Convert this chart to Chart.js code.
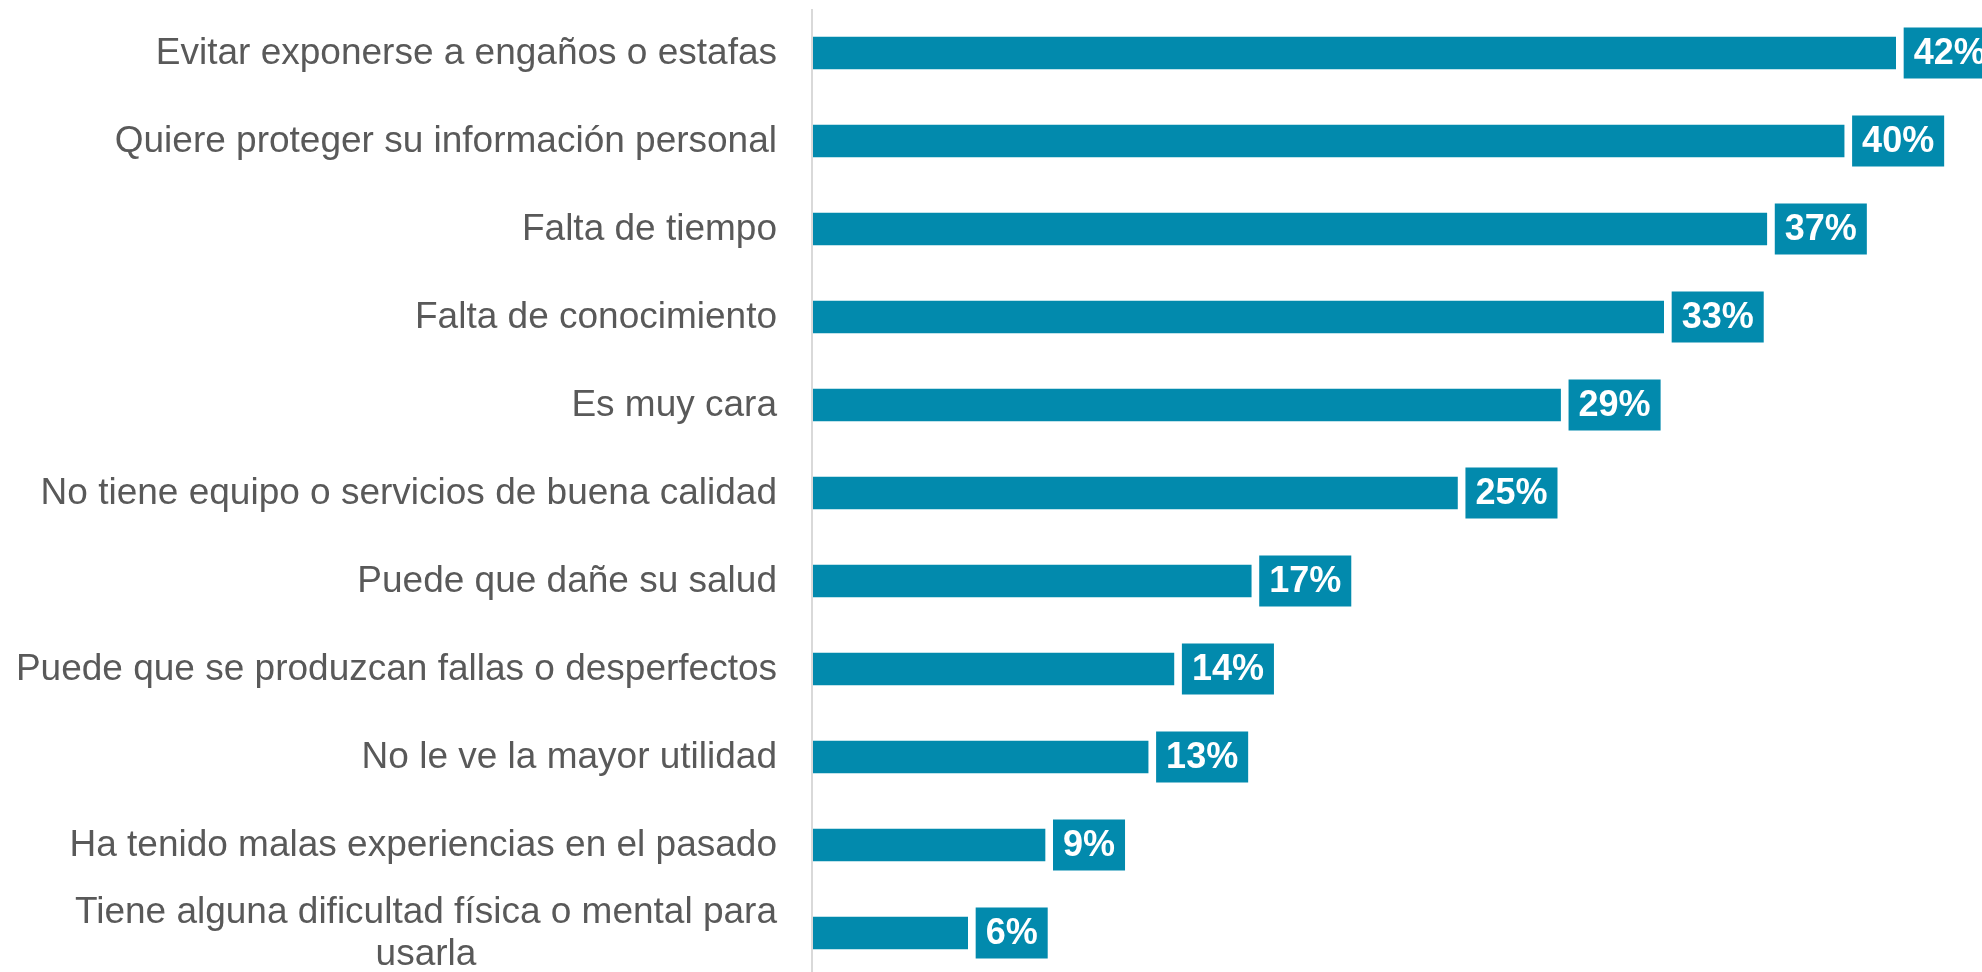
<!DOCTYPE html>
<html>
<head>
<meta charset="utf-8">
<script src="https://cdn.jsdelivr.net/npm/chart.js@4"></script>
<style>
  html, body { margin: 0; padding: 0; background: #fff; overflow: hidden; }
  #wrap { width: 1982px; height: 980px; }
</style>
</head>
<body>
<div id="wrap"><canvas id="myChart"></canvas></div>
<script>
// Categories (top to bottom) and their percentages
const categories = [
    "Evitar exponerse a engaños o estafas",
    "Quiere proteger su información personal",
    "Falta de tiempo",
    "Falta de conocimiento",
    "Es muy cara",
    "No tiene equipo o servicios de buena calidad",
    "Puede que dañe su salud",
    "Puede que se produzcan fallas o desperfectos",
    "No le ve la mayor utilidad",
    "Ha tenido malas experiencias en el pasado",
    ["Tiene alguna dificultad física o mental para", "usarla"]
];
const values = [42, 40, 37, 33, 29, 25, 17, 14, 13, 9, 6];

const barColor = "#028AAD";

// Category labels drawn to the left of the axis, multi-line centred
const labelPlugin = {
    id: "catLabels",
    afterDraw(chart) {
        const ctx = chart.ctx;
        const y = chart.scales.y;
        const right = chart.chartArea.left - 36;
        ctx.save();
        ctx.font = "37px 'Liberation Sans', Arial, sans-serif";
        ctx.fillStyle = "#595959";
        ctx.textBaseline = "middle";
        const lh = 42;
        categories.forEach((lab, i) => {
            const lines = Array.isArray(lab) ? lab : [lab];
            const cy = y.getPixelForValue(i);
            const maxW = Math.max(...lines.map(l => ctx.measureText(l).width));
            const cx = right - maxW / 2;
            ctx.textAlign = lines.length > 1 ? "center" : "right";
            lines.forEach((l, j) => {
                const ly = cy + (j - (lines.length - 1) / 2) * lh + 1;
                ctx.fillText(l, lines.length > 1 ? cx : right, ly);
            });
        });
        ctx.restore();
    }
};

// Value labels in boxes next to each bar
const valuePlugin = {
    id: "valueBoxes",
    afterDatasetsDraw(chart) {
        const ctx = chart.ctx;
        const meta = chart.getDatasetMeta(0);
        ctx.save();
        ctx.font = "bold 36px 'Liberation Sans', Arial, sans-serif";
        ctx.textBaseline = "middle";
        ctx.textAlign = "left";
        meta.data.forEach((bar, i) => {
            const txt = values[i] + "%";
            const w = ctx.measureText(txt).width + 20;
            const x = bar.x + 8;
            ctx.fillStyle = barColor;
            ctx.fillRect(x, bar.y - 25.5, w, 51);
            ctx.fillStyle = "#fff";
            ctx.fillText(txt, x + 10, bar.y + 1);
        });
        ctx.restore();
    }
};

const ctx = document.getElementById("myChart").getContext("2d");
const chart = new Chart(ctx, {
    type: "bar",
    data: {
        labels: categories,
        datasets: [{
            data: values,
            backgroundColor: barColor,
            barThickness: 32
        }]
    },
    options: {
        indexAxis: "y",
        responsive: true,
        maintainAspectRatio: false,
        animation: false,
        layout: { padding: { left: 813, right: 9, top: 9, bottom: 3 } },
        plugins: { legend: { display: false }, tooltip: { enabled: false } },
        scales: {
            x: { display: false, min: 0, max: 45 },
            y: {
                display: false
            }
        }
    },
    plugins: [labelPlugin, valuePlugin, {
        id: "axisLine",
        beforeDatasetsDraw(chart) {
            const c = chart.ctx, a = chart.chartArea;
            c.save();
            c.strokeStyle = "#D9D9D9";
            c.lineWidth = 2;
            c.beginPath();
            c.moveTo(a.left - 1, a.top);
            c.lineTo(a.left - 1, chart.height);
            c.stroke();
            c.restore();
        }
    }]
});
</script>
</body>
</html>
